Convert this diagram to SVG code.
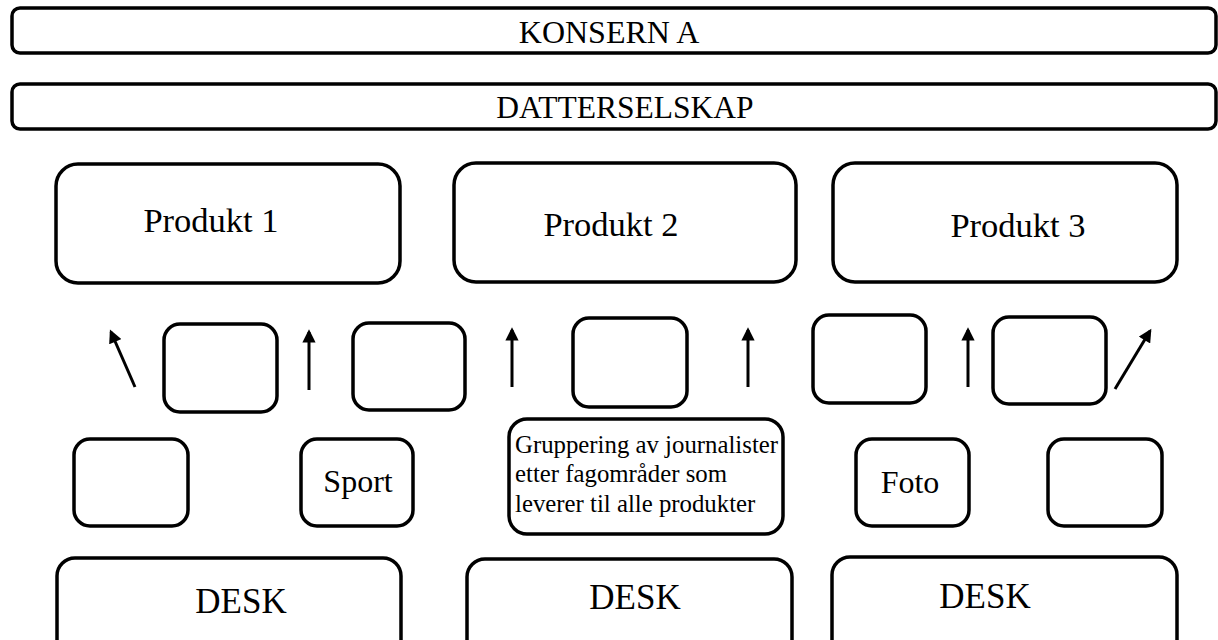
<svg xmlns="http://www.w3.org/2000/svg" width="1218" height="640" viewBox="0 0 1218 640">
  <style>
    .box { fill: #ffffff; stroke: #000000; stroke-width: 3.5; }
    .lbl { font-family: "Liberation Serif", "Times New Roman", serif; fill: #000000; }
    .mid { text-anchor: middle; }
    .arrow { stroke: #000000; stroke-width: 3; fill: none; marker-end: url(#head); }
  </style>
  <defs>
    <marker id="head" viewBox="0 0 10 10" refX="8" refY="5" markerWidth="4.6" markerHeight="4.4" orient="auto" markerUnits="strokeWidth">
      <path d="M0,0 L10,5 L0,10 z" fill="#000000"/>
    </marker>
  </defs>
  <rect width="1218" height="640" fill="#ffffff"/>

  <g id="konsern">
    <rect class="box" x="12" y="8" width="1204" height="45" rx="8"/>
    <text class="lbl mid" x="609" y="43" font-size="32">KONSERN A</text>
  </g>
  <g id="datterselskap">
    <rect class="box" x="12" y="84" width="1204" height="45" rx="8"/>
    <text class="lbl mid" x="625" y="118" font-size="31.5">DATTERSELSKAP</text>
  </g>

  <g id="produkt1">
    <rect class="box" x="56" y="164" width="344" height="119" rx="22"/>
    <text class="lbl mid" x="211" y="232" font-size="34.5">Produkt 1</text>
  </g>
  <g id="produkt2">
    <rect class="box" x="454" y="163" width="342" height="119" rx="22"/>
    <text class="lbl mid" x="611" y="236" font-size="34.5">Produkt 2</text>
  </g>
  <g id="produkt3">
    <rect class="box" x="833" y="163" width="344" height="119" rx="22"/>
    <text class="lbl mid" x="1018" y="237" font-size="34.5">Produkt 3</text>
  </g>

  <g id="mid1"><rect class="box" x="164" y="324" width="113" height="88" rx="16"/></g>
  <g id="mid2"><rect class="box" x="353" y="323" width="112" height="87" rx="16"/></g>
  <g id="mid3"><rect class="box" x="573" y="318" width="114" height="89" rx="16"/></g>
  <g id="mid4"><rect class="box" x="813" y="315" width="113" height="88" rx="16"/></g>
  <g id="mid5"><rect class="box" x="993" y="317" width="113" height="87" rx="16"/></g>

  <g id="connectors">
    <line class="arrow" x1="135" y1="387" x2="111" y2="332"/>
    <line class="arrow" x1="309" y1="390" x2="309" y2="332"/>
    <line class="arrow" x1="512" y1="387" x2="512" y2="330"/>
    <line class="arrow" x1="748" y1="387" x2="748" y2="330"/>
    <line class="arrow" x1="968" y1="387" x2="968" y2="330"/>
    <line class="arrow" x1="1115" y1="389" x2="1150" y2="331"/>
  </g>

  <g id="fag1"><rect class="box" x="74" y="439" width="114" height="87" rx="16"/></g>
  <g id="sport">
    <rect class="box" x="301" y="439" width="112" height="87" rx="16"/>
    <text class="lbl mid" x="358" y="492" font-size="32">Sport</text>
  </g>
  <g id="gruppering">
    <rect class="box" x="509" y="419" width="274" height="115" rx="18"/>
    <text class="lbl" x="515" y="453" font-size="24.8">Gruppering av journalister</text>
    <text class="lbl" x="515" y="482" font-size="24.8">etter fagområder som</text>
    <text class="lbl" x="515" y="512" font-size="24.8">leverer til alle produkter</text>
  </g>
  <g id="foto">
    <rect class="box" x="856" y="439" width="113" height="87" rx="16"/>
    <text class="lbl mid" x="910" y="493" font-size="32">Foto</text>
  </g>
  <g id="fag5"><rect class="box" x="1048" y="439" width="114" height="87" rx="16"/></g>

  <g id="desk1">
    <rect class="box" x="57" y="558" width="344" height="110" rx="18"/>
    <text class="lbl mid" x="241" y="613" font-size="35">DESK</text>
  </g>
  <g id="desk2">
    <rect class="box" x="467" y="559" width="325" height="110" rx="18"/>
    <text class="lbl mid" x="635" y="609" font-size="35">DESK</text>
  </g>
  <g id="desk3">
    <rect class="box" x="832" y="557" width="345" height="110" rx="18"/>
    <text class="lbl mid" x="985" y="608" font-size="35">DESK</text>
  </g>
</svg>
